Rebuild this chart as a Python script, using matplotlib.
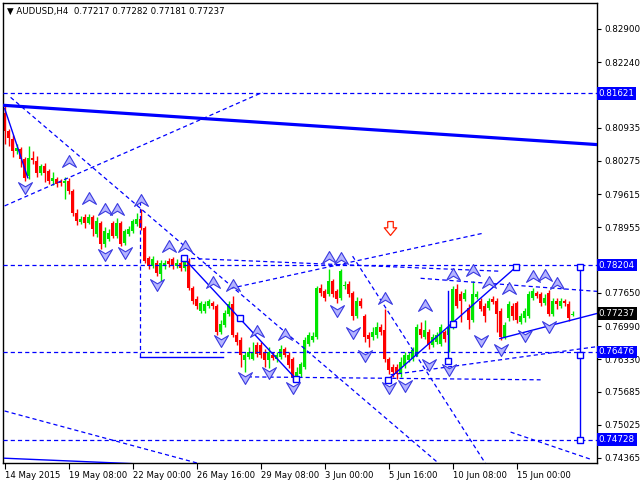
import matplotlib
matplotlib.use('Agg')
import matplotlib.pyplot as plt
from matplotlib.path import Path
from matplotlib.transforms import blended_transform_factory

plt.rcParams['font.family'] = ['DejaVu Sans']
plt.rcParams['lines.scale_dashes'] = False

# ---------------- data (AUDUSD H4 candles) ----------------
opens = [0.8122,0.8088,0.8072,0.8048,0.8052,0.8032,0.7998,0.8034,0.8028,0.8004,
         0.8018,0.8008,0.7988,0.7992,0.7986,0.7984,0.7988,0.7968,0.7924,0.7906,
         0.7916,0.7904,0.7916,0.7882,0.7904,0.7862,0.7872,0.7904,0.7878,0.7904,
         0.7864,0.7882,0.7888,0.7902,0.7912,0.7894,0.7834,0.7818,0.7824,0.7802,
         0.7818,0.7828,0.7832,0.7818,0.7824,0.7814,0.7828,0.7774,0.7752,0.7728,
         0.7728,0.7738,0.7744,0.7738,0.7688,0.7702,0.7722,0.7742,0.7682,0.7672,
         0.7632,0.7638,0.7634,0.7662,0.7662,0.7648,0.7632,0.7642,0.7634,0.7638,
         0.7654,0.7642,0.7634,0.7598,0.7604,0.7618,0.7664,0.7672,0.7678,0.7774,
         0.7768,0.7762,0.7788,0.7768,0.7754,0.7778,0.7782,0.7764,0.7718,0.7748,
         0.7718,0.7682,0.7678,0.7682,0.7698,0.7692,0.7634,0.7618,0.7618,0.7604,
         0.7622,0.7632,0.7634,0.7644,0.7694,0.7678,0.7688,0.7662,0.7668,0.7664,
         0.7688,0.7682,0.7698,0.7772,0.7762,0.7752,0.7734,0.7712,0.7756,0.7748,
         0.7738,0.7734,0.7752,0.7748,0.7728,0.7678,0.7714,0.7738,0.7744,0.7708,
         0.7714,0.7718,0.7754,0.7764,0.7762,0.7744,0.7764,0.7722,0.7748,0.7738,
         0.7748,0.7742,0.77217]
closes = [0.8088,0.8074,0.8048,0.8054,0.8032,0.7994,0.8034,0.8030,0.8004,0.8018,
          0.8004,0.7988,0.7994,0.7982,0.7984,0.7988,0.7968,0.7924,0.7908,0.7912,
          0.7904,0.7916,0.7892,0.7908,0.7862,0.7888,0.7884,0.7878,0.7904,0.7862,
          0.7888,0.7892,0.7908,0.7912,0.7894,0.7828,0.7818,0.7832,0.7804,0.7824,
          0.7824,0.7822,0.7818,0.7824,0.7814,0.7828,0.7774,0.7748,0.7738,0.7744,
          0.7742,0.7748,0.7738,0.7688,0.7704,0.7724,0.7742,0.7682,0.7668,0.7642,
          0.7642,0.7648,0.7648,0.7644,0.7642,0.7632,0.7648,0.7636,0.7642,0.7654,
          0.7642,0.7622,0.7598,0.7608,0.7624,0.7672,0.7682,0.7680,0.7774,0.7764,
          0.7754,0.7788,0.7762,0.7752,0.7808,0.7780,0.7762,0.7718,0.7748,0.7738,
          0.7678,0.7674,0.7688,0.7698,0.7688,0.7634,0.7612,0.7608,0.7604,0.7628,
          0.7642,0.7642,0.7652,0.7698,0.7682,0.7692,0.7662,0.7678,0.7682,0.7698,
          0.7674,0.7698,0.7772,0.7738,0.7748,0.7764,0.7712,0.7762,0.7762,0.7732,
          0.7718,0.7748,0.7746,0.7722,0.7678,0.7702,0.7742,0.7718,0.7712,0.7718,
          0.7728,0.7762,0.7768,0.7758,0.7744,0.7754,0.7722,0.7748,0.7742,0.7748,
          0.7744,0.7714,0.77237]
highs = [0.8138,0.8092,0.8080,0.8062,0.8056,0.8036,0.8058,0.8048,0.8038,0.8022,
         0.8024,0.8012,0.8006,0.7996,0.7992,0.7996,0.7994,0.7972,0.7932,0.7918,
         0.7922,0.7922,0.7920,0.7916,0.7908,0.7896,0.7892,0.7908,0.7914,0.7908,
         0.7892,0.7898,0.7912,0.7924,0.7932,0.7898,0.7838,0.7838,0.7830,0.7830,
         0.7830,0.7834,0.7836,0.7832,0.7830,0.7838,0.7834,0.7778,0.7758,0.7748,
         0.7748,0.7752,0.7748,0.7742,0.7712,0.7730,0.7748,0.7758,0.7688,0.7678,
         0.7648,0.7658,0.7668,0.7668,0.7668,0.7654,0.7658,0.7648,0.7648,0.7662,
         0.7658,0.7648,0.7638,0.7618,0.7628,0.7678,0.7688,0.7688,0.7778,0.7782,
         0.7772,0.7812,0.7792,0.7772,0.7812,0.7788,0.7788,0.7768,0.7756,0.7754,
         0.7722,0.7688,0.7698,0.7708,0.7704,0.7732,0.7638,0.7624,0.7624,0.7638,
         0.7648,0.7648,0.7658,0.7704,0.7708,0.7712,0.7694,0.7684,0.7688,0.7704,
         0.7692,0.7704,0.7778,0.7782,0.7768,0.7772,0.7742,0.7788,0.7768,0.7754,
         0.7744,0.7754,0.7758,0.7754,0.7734,0.7708,0.7748,0.7744,0.7748,0.7724,
         0.7734,0.7768,0.7774,0.7768,0.7766,0.7762,0.7770,0.7754,0.7754,0.7754,
         0.7752,0.7748,0.77282]
lows = [0.8062,0.8058,0.8036,0.8042,0.8016,0.7988,0.7992,0.8022,0.7996,0.8000,
        0.7986,0.7982,0.7980,0.7976,0.7978,0.7952,0.7962,0.7918,0.7900,0.7902,
        0.7894,0.7902,0.7878,0.7876,0.7852,0.7856,0.7868,0.7874,0.7874,0.7858,
        0.7860,0.7878,0.7884,0.7898,0.7890,0.7824,0.7812,0.7814,0.7798,0.7788,
        0.7812,0.7816,0.7812,0.7814,0.7808,0.7808,0.7770,0.7742,0.7732,0.7724,
        0.7724,0.7734,0.7732,0.7682,0.7684,0.7698,0.7718,0.7678,0.7662,0.7618,
        0.7608,0.7634,0.7632,0.7638,0.7636,0.7618,0.7616,0.7632,0.7628,0.7634,
        0.7638,0.7616,0.7590,0.7592,0.7598,0.7614,0.7660,0.7668,0.7674,0.7758,
        0.7748,0.7758,0.7756,0.7744,0.7750,0.7772,0.7756,0.7712,0.7714,0.7734,
        0.7668,0.7658,0.7672,0.7676,0.7682,0.7628,0.7604,0.7598,0.7594,0.7598,
        0.7616,0.7628,0.7630,0.7640,0.7676,0.7674,0.7654,0.7658,0.7664,0.7660,
        0.7668,0.7648,0.7694,0.7734,0.7708,0.7748,0.7694,0.7708,0.7752,0.7728,
        0.7708,0.7730,0.7742,0.7688,0.7672,0.7674,0.7710,0.7712,0.7706,0.7704,
        0.7708,0.7714,0.7750,0.7754,0.7738,0.7740,0.7718,0.7718,0.7732,0.7734,
        0.7738,0.7710,0.77181]

date_tick_bars = [0, 16, 32, 48, 64, 80, 96, 112, 128]
date_tick_labels = ['14 May 2015', '19 May 08:00', '22 May 00:00', '26 May 16:00',
                    '29 May 08:00', '3 Jun 00:00', '5 Jun 16:00', '10 Jun 08:00',
                    '15 Jun 00:00']
price_ticks = [0.82900, 0.82240, 0.81580, 0.80935, 0.80275, 0.79615, 0.78955,
               0.78290, 0.77650, 0.76990, 0.76330, 0.75685, 0.75025, 0.74365]
hidden_ticks = [0.81580, 0.78290]   # covered by the level boxes
level_prices = [0.81621, 0.78204, 0.76476, 0.74728]
last_price = 0.77237
title_text = '\u25bc AUDUSD,H4  0.77217 0.77282 0.77181 0.77237'

# analysis objects: (bar, price) endpoints
thick_trend = [(0, 0.8138), (148.1, 0.8060)]
dashed_lines = [
    [(0, 0.7938), (64.5, 0.8164)],
    [(1.5, 0.8154), (108.2, 0.7428)],
    [(56.5, 0.7774), (119.8, 0.7884)],
    [(59, 0.7598), (134, 0.7592)],
    [(96.5, 0.7602), (148.1, 0.7658)],
    [(104, 0.7794), (148.1, 0.7768)],
    [(44.8, 0.7834), (124, 0.7808)],
    [(33.8, 0.7948), (33.8, 0.7638)],
    [(0, 0.7530), (50.2, 0.7422)],
    [(87, 0.7838), (120.5, 0.7422)],
    [(126.5, 0.7488), (146.5, 0.7434)],
]
solid_lines = [
    [(0, 0.8132), (5.8, 0.7994)],
    [(44.8, 0.7834), (72.8, 0.7594)],
    [(95.8, 0.7592), (127.8, 0.7816)],
    [(110.8, 0.7768), (110.8, 0.7630)],
    [(143.8, 0.7816), (143.8, 0.7472)],
    [(123.8, 0.7674), (148.1, 0.7724)],
    [(33.8, 0.7638), (54.5, 0.7638)],
    [(0, 0.7436), (41.5, 0.7422)],
]
squares = [(44.8, 0.7834), (58.8, 0.7714), (72.8, 0.7594), (95.8, 0.7592),
           (110.8, 0.7630), (112, 0.7704), (127.8, 0.7816), (143.8, 0.7816),
           (143.8, 0.7642), (143.8, 0.7472)]
up_arrow_bars = [16, 21, 25, 28, 34, 41, 45, 52, 57, 63, 70, 81, 84, 95, 105,
                 112, 117, 121, 126, 132, 135, 138]
up_arrow_prices = [0.8026, 0.7952, 0.7930, 0.7930, 0.7948, 0.7856, 0.7856, 0.7784,
                   0.7778, 0.7688, 0.7682, 0.7834, 0.7832, 0.7752, 0.7738, 0.7800,
                   0.7808, 0.7784, 0.7772, 0.7796, 0.7798, 0.7782]
down_arrow_bars = [5, 25, 30, 38, 54, 60, 66, 72, 83, 87, 90, 96, 100, 106, 111,
                   119, 124, 130, 136]
down_arrow_prices = [0.7976, 0.7842, 0.7846, 0.7782, 0.7672, 0.7598, 0.7608, 0.7578,
                     0.7730, 0.7688, 0.7642, 0.7578, 0.7582, 0.7624, 0.7614, 0.7672,
                     0.7654, 0.7682, 0.7700]
signal_arrow = (96.4, 0.7894)

# ---------------- figure ----------------
BLUE = '#0000ff'
FS = 6.3
fig = plt.figure(figsize=(6.4, 4.8), dpi=100)
ax = fig.add_axes([3/640, 17/480, 594/640, 460/480])
ax.set_xlim(-0.4, 148.1)
ax.set_ylim(0.74265, 0.83417)

for i in range(len(opens)):
    o, c, h, l = opens[i], closes[i], highs[i], lows[i]
    col = '#00e600' if c >= o else '#ff0000'
    ax.plot([i, i], [l, h], color=col, lw=1.0, zorder=2, solid_capstyle='butt')
    hgt = max(abs(c - o), 0.00005)
    ax.bar(i, hgt, bottom=min(o, c), width=0.72, color=col, linewidth=0, zorder=2)

# objects
(x0, y0), (x1, y1) = thick_trend
ax.plot([x0, x1], [y0, y1], color=BLUE, lw=2.3, zorder=3)
for p in level_prices:
    ax.plot([-0.4, 148.1], [p, p], color=BLUE, lw=0.9, ls=(0, (3, 2.2)), zorder=3)
for seg in dashed_lines:
    ax.plot([seg[0][0], seg[1][0]], [seg[0][1], seg[1][1]], color=BLUE, lw=0.9,
            ls=(0, (3, 2.2)), zorder=3)
for seg in solid_lines:
    ax.plot([seg[0][0], seg[1][0]], [seg[0][1], seg[1][1]], color=BLUE, lw=1.0, zorder=3)
ax.plot([s[0] for s in squares], [s[1] for s in squares], ls='none', marker='s',
        ms=5, mfc='white', mec=BLUE, mew=1.0, zorder=4)

up_path = Path([(-1, -0.7), (0, 1), (1, -0.7), (0, -0.1), (-1, -0.7)],
               [Path.MOVETO, Path.LINETO, Path.LINETO, Path.LINETO, Path.CLOSEPOLY])
down_path = Path([(-1, 0.7), (0, -1), (1, 0.7), (0, 0.1), (-1, 0.7)],
                 [Path.MOVETO, Path.LINETO, Path.LINETO, Path.LINETO, Path.CLOSEPOLY])
ax.plot(up_arrow_bars, up_arrow_prices, ls='none', marker=up_path, ms=10,
        mfc='#b4b4ff', mec='#3a3ae0', mew=0.8, zorder=4)
ax.plot(down_arrow_bars, down_arrow_prices, ls='none', marker=down_path, ms=10,
        mfc='#b4b4ff', mec='#3a3ae0', mew=0.8, zorder=4)
red_path = Path([(-0.4, 1), (0.4, 1), (0.4, 0.1), (0.9, 0.1), (0, -1), (-0.9, 0.1),
                 (-0.4, 0.1), (-0.4, 1)])
ax.plot([signal_arrow[0]], [signal_arrow[1]], ls='none', marker=red_path, ms=10,
        mfc='white', mec='#ff2000', mew=0.9, zorder=4)

# axes styling
for s in ax.spines.values():
    s.set_color('black')
    s.set_linewidth(1.0)
ax.yaxis.tick_right()
ax.set_yticks(price_ticks)
ax.set_yticklabels(['' if v in hidden_ticks else '%.5f' % v for v in price_ticks])
ax.set_xticks(date_tick_bars)
ax.set_xticklabels(date_tick_labels, ha='left')
ax.tick_params(axis='y', right=True, left=False, direction='out', length=3,
               width=0.8, pad=2, labelsize=FS, colors='black')
ax.tick_params(axis='x', direction='out', length=4, width=0.8, pad=1.5,
               labelsize=6.1, colors='black')

tr = blended_transform_factory(ax.transAxes, ax.transData)
for p in level_prices:
    ax.text(1.003, p, '%.5f' % p, transform=tr, ha='left', va='center', fontsize=FS,
            color='white', zorder=10, clip_on=False,
            bbox=dict(boxstyle='square,pad=0.2', fc=BLUE, ec='none'))
ax.text(1.003, last_price, '%.5f' % last_price, transform=tr, ha='left', va='center',
        fontsize=FS, color='white', zorder=10, clip_on=False,
        bbox=dict(boxstyle='square,pad=0.2', fc='black', ec='none'))

ax.text(0.006, 1 - 8/460, title_text, transform=ax.transAxes, ha='left', va='center',
        fontsize=6.2, color='black')

fig.savefig('out.png', dpi=100, facecolor='white')
